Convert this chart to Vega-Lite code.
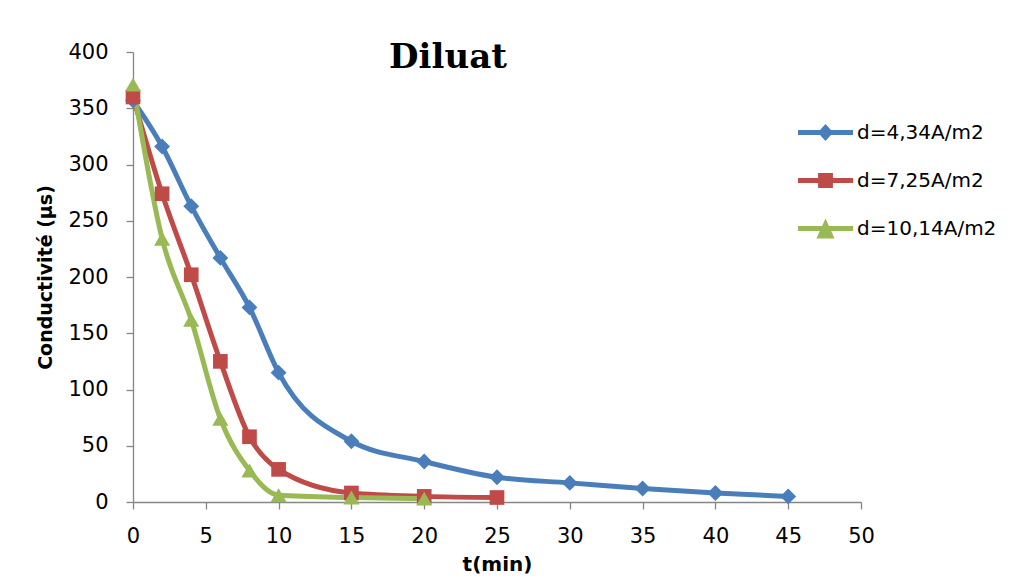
{
  "$schema": "https://vega.github.io/schema/vega-lite/v6.json",
  "width": 728,
  "height": 450,
  "autosize": {"type": "none"},
  "padding": {"left": 133, "top": 52, "right": 163, "bottom": 77},
  "background": "white",
  "title": {"text": "Diluat", "font": "DejaVu Serif", "fontSize": 34, "fontWeight": "bold", "color": "black", "anchor": "middle", "frame": "group", "dx": -49, "dy": 43, "offset": -18, "baseline": "alphabetic"},
  "config": {
    "view": {"stroke": null},
    "axis": {"grid": false, "labelFlush": false, "domainColor": "#868686", "tickColor": "#868686", "domainWidth": 1.3, "tickWidth": 1.3, "labelColor": "black", "labelFont": "DejaVu Sans", "labelFontSize": 21, "titleColor": "black", "titleFont": "DejaVu Sans", "titleFontWeight": "bold", "tickSize": 7}
  },
  "data": {"values": [
    {"s": "d=4,34A/m2", "t": 0, "c": 357},
    {"s": "d=4,34A/m2", "t": 2, "c": 316},
    {"s": "d=4,34A/m2", "t": 4, "c": 263},
    {"s": "d=4,34A/m2", "t": 6, "c": 217},
    {"s": "d=4,34A/m2", "t": 8, "c": 173},
    {"s": "d=4,34A/m2", "t": 10, "c": 115},
    {"s": "d=4,34A/m2", "t": 15, "c": 54},
    {"s": "d=4,34A/m2", "t": 20, "c": 36},
    {"s": "d=4,34A/m2", "t": 25, "c": 22},
    {"s": "d=4,34A/m2", "t": 30, "c": 17},
    {"s": "d=4,34A/m2", "t": 35, "c": 12},
    {"s": "d=4,34A/m2", "t": 40, "c": 8},
    {"s": "d=4,34A/m2", "t": 45, "c": 5},
    {"s": "d=7,25A/m2", "t": 0, "c": 360},
    {"s": "d=7,25A/m2", "t": 2, "c": 274},
    {"s": "d=7,25A/m2", "t": 4, "c": 202},
    {"s": "d=7,25A/m2", "t": 6, "c": 125},
    {"s": "d=7,25A/m2", "t": 8, "c": 58},
    {"s": "d=7,25A/m2", "t": 10, "c": 29},
    {"s": "d=7,25A/m2", "t": 15, "c": 8},
    {"s": "d=7,25A/m2", "t": 20, "c": 5},
    {"s": "d=7,25A/m2", "t": 25, "c": 4},
    {"s": "d=10,14A/m2", "t": 0, "c": 371},
    {"s": "d=10,14A/m2", "t": 2, "c": 234},
    {"s": "d=10,14A/m2", "t": 4, "c": 162},
    {"s": "d=10,14A/m2", "t": 6, "c": 74},
    {"s": "d=10,14A/m2", "t": 8, "c": 28},
    {"s": "d=10,14A/m2", "t": 10, "c": 6},
    {"s": "d=10,14A/m2", "t": 15, "c": 4},
    {"s": "d=10,14A/m2", "t": 20, "c": 3}
  ]},
  "encoding": {
    "x": {"field": "t", "type": "quantitative", "scale": {"domain": [0, 50], "nice": false}, "axis": {"values": [0,5,10,15,20,25,30,35,40,45,50], "labelPadding": 16, "title": "t(min)", "titleFontSize": 20, "titlePadding": 8}},
    "y": {"field": "c", "type": "quantitative", "scale": {"domain": [0, 400], "nice": false}, "axis": {"values": [0,50,100,150,200,250,300,350,400], "labelPadding": 18, "title": "Conductivité (µs)", "titleFontSize": 19, "titlePadding": 12}},
    "color": {"field": "s", "type": "nominal", "scale": {"domain": ["d=4,34A/m2", "d=7,25A/m2", "d=10,14A/m2"], "range": ["#4A7EBB", "#BE4B48", "#98B954"]},
      "legend": {"title": null, "orient": "none", "legendX": 665, "legendY": 53, "symbolSize": 3025, "labelOffset": 4, "labelFont": "DejaVu Sans", "labelFontSize": 20, "labelColor": "black", "rowPadding": 10,
        "encode": {"symbols": {"update": {
          "shape": {"signal": "datum.value === 'd=4,34A/m2' ? 'M-1,-0.095H1V0.095H-1Z M0,-0.31L0.28,0L0,0.31L-0.28,0Z' : datum.value === 'd=7,25A/m2' ? 'M-1,-0.095H1V0.095H-1Z M-0.27,-0.27H0.27V0.27H-0.27Z' : 'M-1,-0.095H1V0.095H-1Z M0,-0.36L0.33,0.36H-0.33Z'"},
          "fill": {"signal": "scale('color', datum.value)"},
          "stroke": {"value": "transparent"},
          "strokeWidth": {"value": 0},
          "opacity": {"value": 1}
        }}}}}
  },
  "layer": [
    {"mark": {"type": "line", "strokeWidth": 5, "interpolate": "monotone"}},
    {"transform": [{"filter": "datum.s === 'd=4,34A/m2'"}], "mark": {"type": "point", "filled": true, "opacity": 1, "size": 250, "shape": "diamond"}},
    {"transform": [{"filter": "datum.s === 'd=7,25A/m2'"}], "mark": {"type": "point", "filled": true, "opacity": 1, "size": 215, "shape": "square"}},
    {"transform": [{"filter": "datum.s === 'd=10,14A/m2'"}], "mark": {"type": "point", "filled": true, "opacity": 1, "size": 260, "shape": "triangle-up"}}
  ]
}
